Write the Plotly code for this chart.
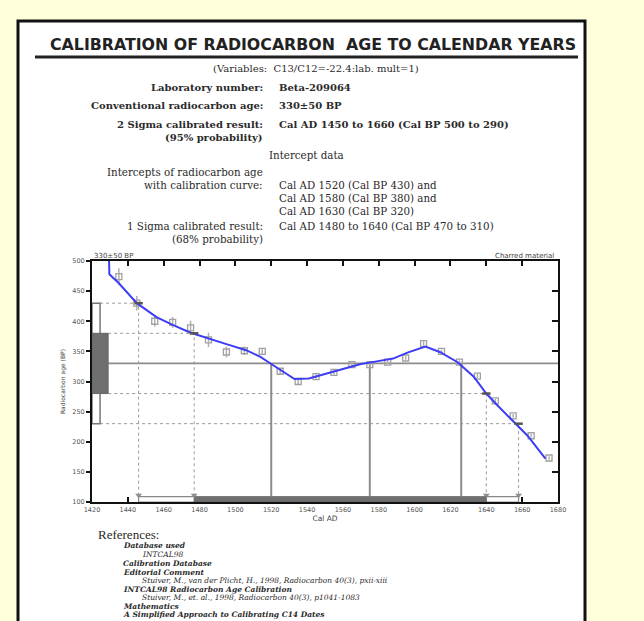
import plotly.graph_objects as go

W, H = 644, 621

# ---------------- data ----------------
curve_year = [1429.5, 1429.7, 1435, 1445, 1456, 1465, 1475, 1485, 1495, 1506, 1514, 1520,
              1527, 1533, 1541, 1548, 1555, 1563, 1570, 1578, 1588, 1596, 1606, 1614,
              1624, 1633, 1640, 1646, 1656, 1663, 1673]
curve_bp = [500, 478, 463, 430, 407, 394, 381, 371, 362, 352, 341, 329,
            316, 304, 305, 311, 317, 323, 329, 333, 338, 348, 358, 349,
            332, 308, 280, 261, 230, 210, 172]

pt_year = [1435, 1445, 1455, 1465, 1475, 1485, 1495, 1505, 1515, 1525, 1535, 1545, 1555,
           1565, 1575, 1585, 1595, 1605, 1615, 1625, 1635, 1645, 1655, 1665, 1675]
pt_bp = [474, 430, 400, 398, 389, 369, 349, 351, 350, 317, 300, 308, 315,
         328, 328, 332, 339, 363, 350, 332, 309, 268, 243, 210, 173]
pt_err = [14, 12, 9, 9, 12, 12, 9, 7, 5, 4, 4, 4, 4,
          3, 3, 3, 3, 4, 3, 3, 4, 3, 3, 3, 3]

age_bp = 330
sigma1 = (280, 380)
sigma2 = (230, 430)
sigma2_years = (1446, 1658)
sigma1_years = (1477, 1640)
intercept_years = [1520, 1575, 1626]

x_ticks = [1420, 1440, 1460, 1480, 1500, 1520, 1540, 1560, 1580, 1600, 1620, 1640, 1660, 1680]
y_ticks = [100, 150, 200, 250, 300, 350, 400, 450, 500]


def px(x):
    return x / W


def py(y):
    return 1 - y / H


fig = go.Figure()

GRAY = "#8c8c8c"
DASH = "3px,3px"

# dashed sigma guides (horizontal to curve, then down to axis)
guide_pts = [(sigma2[1], sigma2_years[0], 1424.5), (sigma1[1], sigma1_years[0], 1429),
             (sigma1[0], sigma1_years[1], 1429), (sigma2[0], sigma2_years[1], 1424.5)]
for bp, yr, x_start in guide_pts:
    fig.add_trace(go.Scatter(x=[x_start, yr, yr], y=[bp, bp, 109], mode="lines",
                             line=dict(color="#9a9a9a", width=1, dash=DASH),
                             hoverinfo="skip", showlegend=False))

# horizontal line at the measured age
fig.add_trace(go.Scatter(x=[1429, 1680], y=[age_bp, age_bp], mode="lines",
                         line=dict(color=GRAY, width=1.6), hoverinfo="skip", showlegend=False))
# intercept verticals
for yr in intercept_years:
    fig.add_trace(go.Scatter(x=[yr, yr], y=[age_bp, 104], mode="lines",
                             line=dict(color=GRAY, width=2), hoverinfo="skip", showlegend=False))

# calibration data points
fig.add_trace(go.Scatter(
    x=pt_year, y=pt_bp, mode="markers",
    marker=dict(symbol="square-open", size=6, color="#a0a0a0", line=dict(width=1.3)),
    error_y=dict(type="data", array=pt_err, color="#b0b0b0", thickness=1.5, width=0),
    showlegend=False))

# calibration curve
fig.add_trace(go.Scatter(x=curve_year, y=curve_bp, mode="lines",
                         line=dict(color="#3d3df5", width=2), showlegend=False))

# intercept ticks on curve
fig.add_trace(go.Scatter(x=[sigma2_years[0], sigma1_years[0], sigma1_years[1], sigma2_years[1]],
                         y=[sigma2[1], sigma1[1], sigma1[0], sigma2[0]], mode="markers",
                         marker=dict(symbol="line-ew", size=6, line=dict(color="#555", width=2.5)),
                         showlegend=False, hoverinfo="skip"))

# arrows at the bottom
fig.add_trace(go.Scatter(x=[sigma2_years[0], sigma1_years[0], sigma1_years[1], sigma2_years[1]],
                         y=[111, 111, 111, 111], mode="markers",
                         marker=dict(symbol="triangle-down", size=6, color="#909090"),
                         showlegend=False, hoverinfo="skip"))

shapes = []
# page
shapes.append(dict(type="rect", xref="paper", yref="paper", x0=px(18), x1=px(585),
                   y0=-0.05, y1=py(21), fillcolor="white", line=dict(color="#111", width=3),
                   layer="below"))
# title underline
shapes.append(dict(type="line", xref="paper", yref="paper", x0=px(35), x1=px(578),
                   y0=py(57), y1=py(57), line=dict(color="#222", width=3)))
# left probability boxes
shapes.append(dict(type="rect", xref="x", yref="y", x0=1420, x1=1424.5, y0=sigma2[0], y1=sigma2[1],
                   fillcolor="white", line=dict(color="#777", width=1.5)))
shapes.append(dict(type="rect", xref="x", yref="y", x0=1420, x1=1429, y0=sigma1[0], y1=sigma1[1],
                   fillcolor="#6e6e6e", line=dict(color="#666", width=1)))
# bottom range bars
shapes.append(dict(type="rect", xref="x", yref="y", x0=sigma2_years[0], x1=sigma2_years[1], y0=100, y1=109,
                   fillcolor="white", line=dict(color="#888", width=1.2)))
shapes.append(dict(type="rect", xref="x", yref="y", x0=sigma1_years[0], x1=sigma1_years[1], y0=100, y1=108,
                   fillcolor="#6e6e6e", line=dict(color="#666", width=1)))

ann = []
SERIF = "DejaVu Serif"
TXT = "#2a2a2a"


def add_text(x, y, text, size=11, anchor="left", bold=False, italic=False, family=SERIF, color=TXT):
    if bold:
        text = "<b>" + text + "</b>"
    if italic:
        text = "<i>" + text + "</i>"
    ann.append(dict(x=px(x), y=py(y), xref="paper", yref="paper", text=text, showarrow=False,
                    xanchor=anchor, yanchor="middle", font=dict(family=family, size=size, color=color)))


add_text(313, 45, "CALIBRATION OF RADIOCARBON  AGE TO CALENDAR YEARS", size=15.8, anchor="center",
         bold=True, family="DejaVu Sans", color="#222")
add_text(316, 68, "(Variables:  C13/C12=-22.4:lab. mult=1)", size=10, anchor="center")

LX, RX = 265, 277
BS = 10
RS = 10.3
add_text(LX, 88, "Laboratory number:", size=BS, anchor="right", bold=True)
add_text(RX, 88, "Beta-209064", size=BS, bold=True)
add_text(LX, 106, "Conventional radiocarbon age:", size=BS, anchor="right", bold=True)
add_text(RX, 106, "330±50 BP", size=BS, bold=True)
add_text(LX, 124, "2 Sigma calibrated result:", size=BS, anchor="right", bold=True)
add_text(RX, 124, "Cal AD 1450 to 1660 (Cal BP 500 to 290)", size=BS, bold=True)
add_text(LX, 137, "(95% probability)", size=BS, anchor="right", bold=True)
add_text(306, 155, "Intercept data", size=RS, anchor="center")
add_text(LX, 172, "Intercepts of radiocarbon age", size=RS, anchor="right")
add_text(LX, 185, "with calibration curve:", size=RS, anchor="right")
add_text(RX, 185, "Cal AD 1520 (Cal BP 430) and", size=RS)
add_text(RX, 198, "Cal AD 1580 (Cal BP 380) and", size=RS)
add_text(RX, 211, "Cal AD 1630 (Cal BP 320)", size=RS)
add_text(LX, 226, "1 Sigma calibrated result:", size=RS, anchor="right")
add_text(RX, 226, "Cal AD 1480 to 1640 (Cal BP 470 to 310)", size=RS)
add_text(LX, 239, "(68% probability)", size=RS, anchor="right")

add_text(92, 256, "330±50 BP", size=7, family="DejaVu Sans", color="#444")
add_text(556, 256, "Charred material", size=7, anchor="right", family="DejaVu Sans", color="#444")

add_text(96, 534, "References:", size=13, family="Liberation Serif")
refs = [
    (121, 545, "Database used", True),
    (140, 554, "INTCAL98", False),
    (121, 563, "Calibration Database", True),
    (121, 572, "Editorial Comment", True),
    (140, 580.5, "Stuiver, M., van der Plicht, H., 1998, Radiocarbon 40(3), pxii-xiii", False),
    (121, 589, "INTCAL98 Radiocarbon Age Calibration", True),
    (140, 597.5, "Stuiver, M., et. al., 1998, Radiocarbon 40(3), p1041-1083", False),
    (121, 606, "Mathematics", True),
    (121, 614.5, "A Simplified Approach to Calibrating C14 Dates", True),
]
for x, y, t, b in refs:
    add_text(x, y, t, size=7.5, bold=b, italic=True, family="DejaVu Serif")

axis_font = dict(family="DejaVu Sans", size=6.5, color="#555")
fig.update_layout(
    width=W, height=H,
    margin=dict(l=0, r=0, t=0, b=0, pad=0),
    paper_bgcolor="#FFFFDC",
    plot_bgcolor="white",
    shapes=shapes,
    annotations=ann,
    showlegend=False,
    xaxis=dict(domain=[px(92), px(558)], range=[1420, 1680], tickvals=x_ticks, automargin=False,
               showgrid=False, zeroline=False, showline=True, linecolor="#111", linewidth=2,
               mirror="ticks", ticks="inside", ticklen=5, tickwidth=2, tickcolor="#111",
               tickfont=axis_font,
               title=dict(text="Cal AD", font=dict(family="DejaVu Sans", size=7.5, color="#444"),
                          standoff=2)),
    yaxis=dict(domain=[py(502), py(261)], range=[100, 500], tickvals=y_ticks, automargin=False,
               showgrid=False, zeroline=False, showline=True, linecolor="#111", linewidth=2,
               mirror=True, ticks="outside", ticklen=4, tickwidth=2, tickcolor="#111",
               tickfont=axis_font,
               title=dict(text="Radiocarbon age (BP)", font=dict(family="DejaVu Sans", size=6, color="#444"),
                          standoff=6)),
    yaxis2=dict(overlaying="y", side="right", range=[100, 500], tickvals=y_ticks, automargin=False,
                showticklabels=False, showgrid=False, zeroline=False,
                ticks="inside", ticklen=6, tickwidth=2, tickcolor="#111", anchor="x"),
)
# dummy trace to activate yaxis2
fig.add_trace(go.Scatter(x=[1420], y=[100], yaxis="y2", mode="markers",
                         marker=dict(opacity=0), hoverinfo="skip", showlegend=False))

fig.write_html("out.html",
               config={"displayModeBar": False},
               post_script="document.body.style.margin='0px';"
                           "document.body.style.background='#FFFFDC';"
                           "document.body.style.overflow='hidden';")
